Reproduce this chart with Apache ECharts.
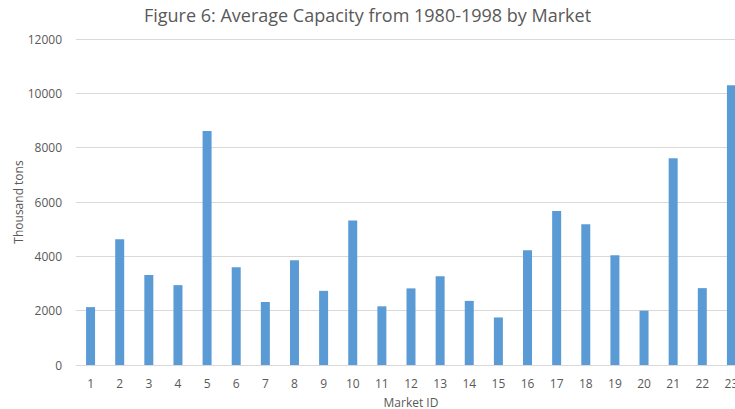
<!DOCTYPE html>
<html>
<head>
<meta charset="utf-8">
<script src="https://cdn.jsdelivr.net/npm/echarts@6/dist/echarts.min.js"></script>
<style>
  html, body { margin: 0; padding: 0; background: #fff; }
  #chart { width: 735px; height: 409px; }
</style>
</head>
<body>
<div id="chart"></div>
<script>
var marketIds = ['1','2','3','4','5','6','7','8','9','10','11','12','13','14','15','16','17','18','19','20','21','22','23'];
var capacity = [2130, 4630, 3310, 2940, 8610, 3600, 2320, 3860, 2730, 5320, 2160, 2820, 3270, 2360, 1750, 4220, 5670, 5180, 4040, 2000, 7610, 2830, 10300];
var yTicks = { min: 0, max: 12000, interval: 2000 };

(function() {
  var grey = '#595959';
  var gridGrey = '#d9d9d9';
  var chart = echarts.init(document.getElementById('chart'), null, { renderer: 'svg' });
  chart.setOption({
    animation: false,
    backgroundColor: '#fff',
    textStyle: { fontFamily: 'Open Sans' },
    title: {
      text: 'Figure 6: Average Capacity from 1980-1998 by Market',
      left: 'center', top: 1,
      textStyle: { color: grey, fontSize: 18, fontWeight: 'normal', fontFamily: 'Open Sans' }
    },
    grid: { left: 76, right: -11, top: 39, bottom: 44, containLabel: false, outerBoundsMode: 'none' },
    xAxis: {
      type: 'category', data: marketIds,
      name: 'Market ID', nameLocation: 'middle', nameGap: 31, nameMoveOverlap: false,
      nameTextStyle: { color: grey, fontSize: 12 },
      axisLine: { lineStyle: { color: gridGrey } },
      axisTick: { show: false },
      axisLabel: { color: grey, fontSize: 12, margin: 12 }
    },
    yAxis: {
      type: 'value', min: yTicks.min, max: yTicks.max, interval: yTicks.interval,
      name: 'Thousand tons', nameLocation: 'middle', nameGap: 52, nameMoveOverlap: false,
      nameTextStyle: { color: grey, fontSize: 12 },
      axisLine: { show: false }, axisTick: { show: false },
      axisLabel: { color: grey, fontSize: 12, margin: 14, formatter: function(v) { return String(v); } },
      splitLine: { lineStyle: { color: gridGrey } }
    },
    series: [{
      type: 'bar', data: capacity, barWidth: 9,
      itemStyle: { color: '#5b9bd5' }
    }]
  });
})();
</script>
</body>
</html>
